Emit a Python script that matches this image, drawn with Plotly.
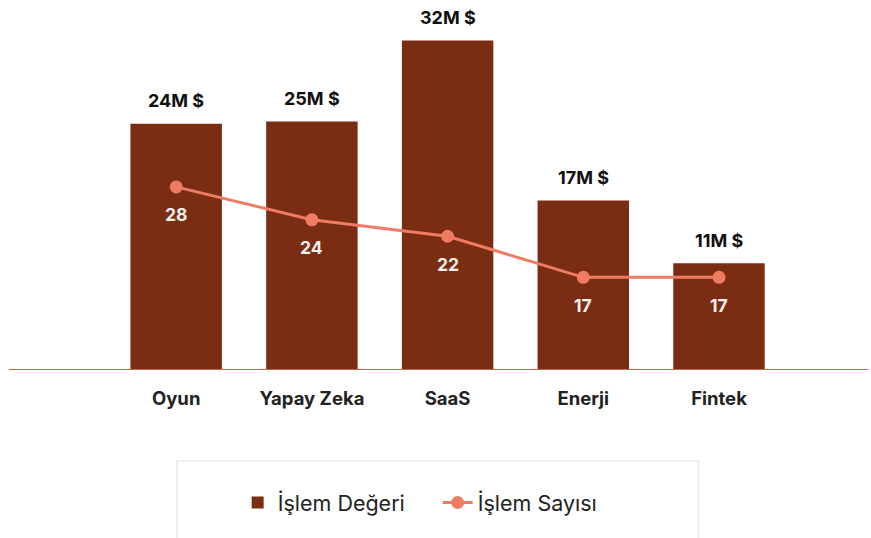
import plotly.graph_objects as go

categories = ["Oyun", "Yapay Zeka", "SaaS", "Enerji", "Fintek"]
deal_value_musd = [24.36, 24.58, 32.3, 17.06, 11.08]   # İşlem Değeri (M $)
deal_count = [28, 24, 22, 17, 17]                      # İşlem Sayısı

series_names = ["İşlem Değeri", "İşlem Sayısı"]

BAR_COLOR = "#7A2D12"
LINE_COLOR = "#EF7B63"
FONT = "Inter"

fig = go.Figure()

fig.add_trace(go.Bar(
    x=categories, y=deal_value_musd, name=series_names[0],
    marker=dict(color=BAR_COLOR, line=dict(width=0)),
    hoverinfo="skip",
))

fig.add_trace(go.Scatter(
    x=categories, y=deal_count, name=series_names[1], yaxis="y2",
    mode="lines+markers",
    line=dict(color=LINE_COLOR, width=3),
    marker=dict(color=LINE_COLOR, size=13),
    hoverinfo="skip",
))

annotations = []
for c, v in zip(categories, deal_value_musd):
    annotations.append(dict(
        x=c, y=v, xref="x", yref="y", text=f"{round(v)}M $", showarrow=False,
        yanchor="middle", yshift=23,
        font=dict(family=FONT, size=18, color="#111111", weight="bold"),
    ))
for c, v in zip(categories, deal_count):
    annotations.append(dict(
        x=c, y=v, xref="x", yref="y2", text=f"{v}", showarrow=False,
        yanchor="middle", yshift=-28,
        font=dict(family=FONT, size=17.5, color="#F4F1EE", weight="bold"),
    ))

fig.update_layout(
    width=871, height=538,
    margin=dict(l=9, r=3, t=10, b=169),
    paper_bgcolor="white", plot_bgcolor="white",
    font=dict(family=FONT, color="#222222"),
    bargap=0.326,
    showlegend=True,
    legend=dict(
        orientation="h", x=0.499, xanchor="center", y=-0.372, yanchor="middle",
        font=dict(family=FONT, size=21.5, color="#222222"),
        bgcolor="rgba(0,0,0,0)", borderwidth=0,
        entrywidth=155, entrywidthmode="pixels",
    ),
    xaxis=dict(
        range=[-1.232, 5.098], showgrid=False, zeroline=False,
        showline=True, linecolor="#BF6A50", linewidth=1,
        ticks="", ticklabelstandoff=13,
        tickfont=dict(family=FONT, size=18.5, color="#222222", weight="bold"),
        fixedrange=True,
    ),
    yaxis=dict(
        range=[1.0, 35.21], visible=False, showgrid=False, zeroline=False,
    ),
    yaxis2=dict(
        range=[5.85, 49.52], overlaying="y", side="right", visible=False,
        showgrid=False, zeroline=False,
    ),
    annotations=annotations,
    shapes=[dict(
        type="rect", xref="paper", yref="paper",
        x0=(177 - 9) / 859, x1=(698.5 - 9) / 859,
        y0=(369 - 461) / 359, y1=(369 - 546) / 359,
        line=dict(color="#EEEEEE", width=2), fillcolor="rgba(0,0,0,0)",
        layer="below",
    )],
)

fig.write_html(
    "out.html",
    config={"displayModeBar": False},
    post_script="document.body.style.margin='0';document.body.style.overflow='hidden';",
)
